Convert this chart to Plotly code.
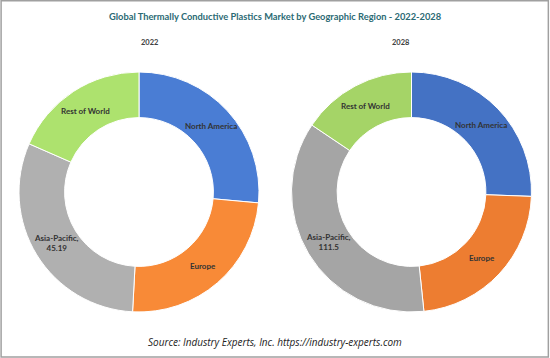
import math
import plotly.graph_objects as go

regions = ["North America", "Europe", "Asia-Pacific", "Rest of World"]
values_2022 = [38.9, 35.9, 45.19, 27.1]
values_2028 = [79.1, 70.4, 111.5, 48.2]
colors_2022 = ["#4A7DD4", "#F88A37", "#B0B0B0", "#ADE26E"]
colors_2028 = ["#4472C4", "#ED7D31", "#A5A5A5", "#A5D467"]
show_value = [False, False, True, False]

title = "Global Thermally Conductive Plastics Market by Geographic Region - 2022-2028"
source = "Source: Industry Experts, Inc. https://industry-experts.com"

W, H = 550, 358
R = 120          # outer radius, px
HOLE = 0.62
CY = 192         # centre y, px from top
centres = [139, 411.5]

fig = go.Figure()
annotations = []
for vals, cols, cx, yr in [(values_2022, colors_2022, centres[0], "2022"),
                           (values_2028, colors_2028, centres[1], "2028")]:
    dom = dict(x=[(cx - R) / W, (cx + R) / W], y=[(H - CY - R) / H, (H - CY + R) / H])
    fig.add_trace(go.Pie(
        labels=regions, values=vals, hole=HOLE, sort=False, direction="clockwise",
        rotation=0, marker=dict(colors=cols, line=dict(color="white", width=1)),
        textinfo="none", showlegend=False, domain=dom, hoverinfo="label+value+percent",
    ))
    total = sum(vals)
    cum = 0.0
    rm = R * (1 + HOLE) / 2
    for lab, v, sv in zip(regions, vals, show_value):
        mid = (cum + v / 2) / total * 2 * math.pi
        cum += v
        px = cx + rm * math.sin(mid)
        py = CY - rm * math.cos(mid)
        txt = f"{lab},<br>{v:g}" if sv else lab
        annotations.append(dict(text="<b>" + txt + "</b>", x=px / W, y=1 - py / H, xref="paper", yref="paper",
                                xanchor="center", yanchor="middle", showarrow=False,
                                font=dict(family="Lato", size=8, color="#333333")))
    annotations.append(dict(text="<b>" + yr + "</b>", x=cx / W, y=1 - 42 / H, xref="paper", yref="paper",
                            yanchor="middle", showarrow=False,
                            font=dict(family="Lato", size=7.5, color="#404040")))

annotations += [
    dict(text="<b>" + title + "</b>", x=0.5, y=1 - 17 / H, xref="paper", yref="paper",
         yanchor="middle", showarrow=False, font=dict(family="Lato", size=9.3, color="#2B6A74")),
    dict(text="<i>" + source + "</i>", x=0.5, y=1 - 342 / H, xref="paper", yref="paper",
         yanchor="middle", showarrow=False, font=dict(family="Open Sans", size=10, color="#222222")),
]

fig.update_layout(
    width=W, height=H, margin=dict(l=0, r=0, t=0, b=0),
    paper_bgcolor="white", plot_bgcolor="white",
    shapes=[dict(type="rect", xref="paper", yref="paper", x0=0.002, x1=0.997, y0=0.003, y1=0.998,
                 line=dict(color="#A0A0A0", width=1.5))],
    annotations=annotations,
)
fig.write_html("out.html", config={"displayModeBar": False},
               post_script="document.body.style.margin='0';document.body.style.overflow='hidden';")
